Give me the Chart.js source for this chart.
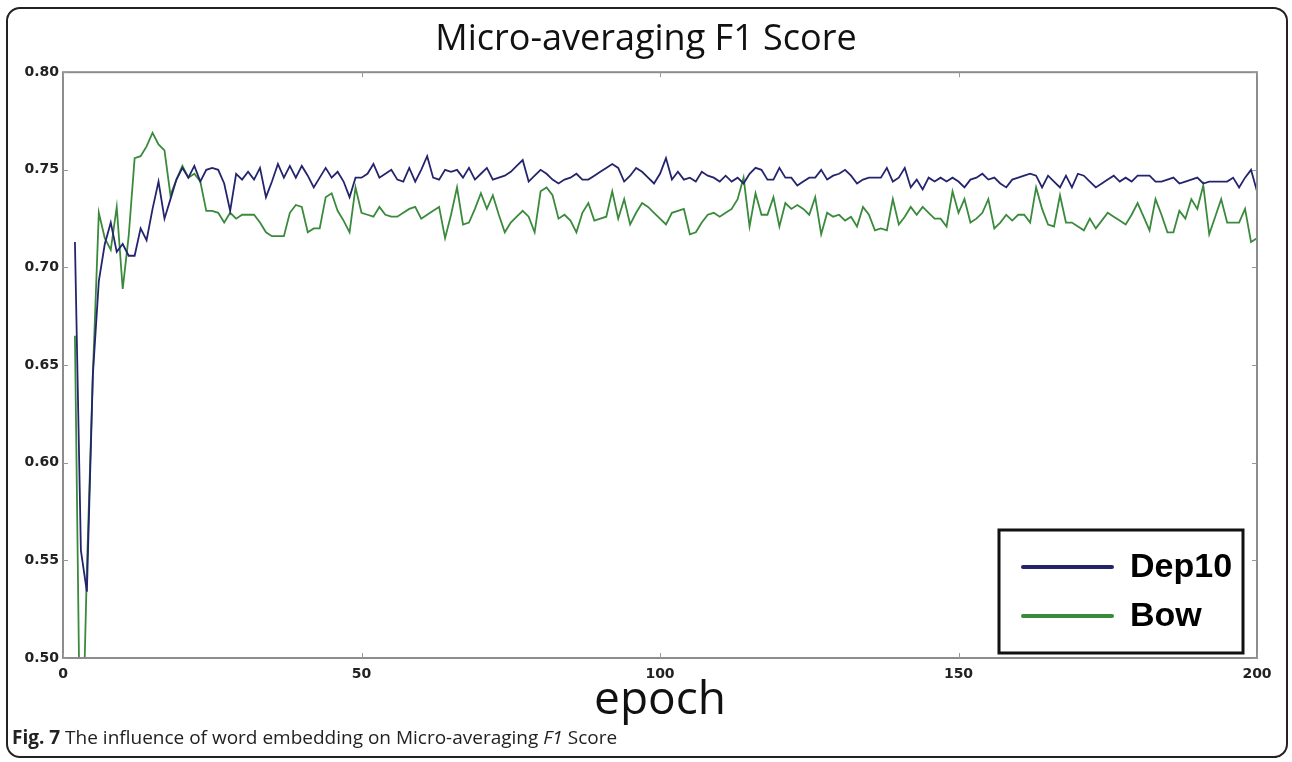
<!DOCTYPE html>
<html>
<head>
<meta charset="utf-8">
<script src="https://cdn.jsdelivr.net/npm/chart.js@4/dist/chart.umd.min.js"></script>
<style>
  body { margin: 0; background: #fff; }
  #wrap { position: relative; width: 1292px; height: 762px; }
  #frame { position: absolute; left: 6px; top: 7px; width: 1278px; height: 747px;
           border: 2px solid #222; border-radius: 14px; pointer-events: none; }
  #caption { position: absolute; left: 12px; top: 724px; font: 19px "Open Sans", sans-serif; color: #222; }
</style>
</head>
<body>
<div id="wrap">
  <canvas id="chart" width="1292" height="762"></canvas>
  <div id="frame"></div>
  <div id="caption"><b>Fig. 7</b> The influence of word embedding on Micro-averaging <i>F1</i> Score</div>
</div>
<script>
// Micro-averaging F1 per epoch, first value belongs to epoch 2
const firstEpoch = 2;
const seriesNames = ['Dep10', 'Bow'];
const yTicks = [0.50, 0.55, 0.60, 0.65, 0.70, 0.75, 0.80];
const xTicks = [0, 50, 100, 150, 200];

const dep10 = [
  0.713, 0.555, 0.534, 0.645, 0.693, 0.712, 0.723, 0.708, 0.712,          // 2-10
  0.706, 0.706, 0.720, 0.714, 0.730, 0.744, 0.725, 0.735, 0.745, 0.751,   // 11-20
  0.746, 0.752, 0.744, 0.750, 0.751, 0.750, 0.743, 0.729, 0.748, 0.745,   // 21-30
  0.749, 0.745, 0.751, 0.736, 0.744, 0.753, 0.746, 0.752, 0.746, 0.752,   // 31-40
  0.747, 0.741, 0.746, 0.751, 0.746, 0.749, 0.744, 0.736, 0.746, 0.746,   // 41-50
  0.748, 0.753, 0.746, 0.748, 0.750, 0.745, 0.744, 0.751, 0.744, 0.750,   // 51-60
  0.757, 0.746, 0.745, 0.750, 0.749, 0.750, 0.746, 0.751, 0.745, 0.748,   // 61-70
  0.751, 0.745, 0.746, 0.747, 0.749, 0.752, 0.755, 0.744, 0.747, 0.750,   // 71-80
  0.748, 0.745, 0.743, 0.745, 0.746, 0.748, 0.745, 0.745, 0.747, 0.749,   // 81-90
  0.751, 0.753, 0.751, 0.744, 0.747, 0.751, 0.749, 0.746, 0.743, 0.748,   // 91-100
  0.756, 0.745, 0.749, 0.745, 0.746, 0.744, 0.749, 0.747, 0.746, 0.744,   // 101-110
  0.747, 0.744, 0.746, 0.743, 0.748, 0.751, 0.750, 0.745, 0.745, 0.751,   // 111-120
  0.746, 0.746, 0.742, 0.744, 0.746, 0.746, 0.750, 0.745, 0.747, 0.748,   // 121-130
  0.750, 0.747, 0.743, 0.745, 0.746, 0.746, 0.746, 0.751, 0.744, 0.746,   // 131-140
  0.751, 0.741, 0.745, 0.740, 0.746, 0.744, 0.746, 0.744, 0.746, 0.744,   // 141-150
  0.741, 0.745, 0.746, 0.748, 0.745, 0.746, 0.743, 0.741, 0.745, 0.746,   // 151-160
  0.747, 0.748, 0.747, 0.741, 0.747, 0.744, 0.741, 0.747, 0.741, 0.748,   // 161-170
  0.747, 0.744, 0.741, 0.743, 0.745, 0.747, 0.744, 0.746, 0.744, 0.747,   // 171-180
  0.747, 0.747, 0.744, 0.744, 0.745, 0.746, 0.743, 0.744, 0.745, 0.746,   // 181-190
  0.743, 0.744, 0.744, 0.744, 0.744, 0.746, 0.741, 0.746, 0.750, 0.739    // 191-200
];

const bow = [
  0.665, 0.420, 0.545, 0.645, 0.728, 0.715, 0.709, 0.731, 0.689,          // 2-10
  0.716, 0.756, 0.757, 0.762, 0.769, 0.763, 0.760, 0.737, 0.745, 0.752,   // 11-20
  0.746, 0.748, 0.744, 0.729, 0.729, 0.728, 0.723, 0.728, 0.725, 0.727,   // 21-30
  0.727, 0.727, 0.723, 0.718, 0.716, 0.716, 0.716, 0.728, 0.732, 0.731,   // 31-40
  0.718, 0.720, 0.720, 0.736, 0.738, 0.729, 0.724, 0.718, 0.741, 0.728,   // 41-50
  0.727, 0.726, 0.731, 0.727, 0.726, 0.726, 0.728, 0.730, 0.731, 0.725,   // 51-60
  0.727, 0.729, 0.731, 0.715, 0.727, 0.741, 0.722, 0.723, 0.730, 0.738,   // 61-70
  0.730, 0.737, 0.727, 0.718, 0.723, 0.726, 0.729, 0.726, 0.718, 0.739,   // 71-80
  0.741, 0.737, 0.725, 0.727, 0.724, 0.718, 0.728, 0.733, 0.724, 0.725,   // 81-90
  0.726, 0.739, 0.725, 0.735, 0.722, 0.728, 0.733, 0.731, 0.728, 0.725,   // 91-100
  0.722, 0.728, 0.729, 0.730, 0.717, 0.718, 0.723, 0.727, 0.728, 0.726,   // 101-110
  0.728, 0.730, 0.735, 0.746, 0.721, 0.738, 0.727, 0.727, 0.736, 0.721,   // 111-120
  0.733, 0.730, 0.732, 0.730, 0.727, 0.736, 0.717, 0.728, 0.726, 0.727,   // 121-130
  0.724, 0.726, 0.721, 0.731, 0.727, 0.719, 0.720, 0.719, 0.735, 0.722,   // 131-140
  0.726, 0.731, 0.727, 0.731, 0.728, 0.725, 0.725, 0.721, 0.739, 0.728,   // 141-150
  0.735, 0.723, 0.725, 0.728, 0.735, 0.720, 0.723, 0.727, 0.724, 0.727,   // 151-160
  0.727, 0.723, 0.741, 0.730, 0.722, 0.721, 0.737, 0.723, 0.723, 0.721,   // 161-170
  0.719, 0.725, 0.720, 0.724, 0.728, 0.726, 0.724, 0.722, 0.727, 0.733,   // 171-180
  0.726, 0.719, 0.735, 0.727, 0.718, 0.718, 0.729, 0.725, 0.735, 0.730,   // 181-190
  0.742, 0.717, 0.726, 0.735, 0.723, 0.723, 0.723, 0.730, 0.713, 0.715    // 191-200
];

const lineColors = ['#24246e', '#3a8a3c'];

function toPoints(values)
{
  return values.map((v, i) => ({ x: firstEpoch + i, y: v }));
}

// box + inward ticks like the matplotlib frame, and the legend inside the plot
const frameAndLegend = {
  id: 'frameAndLegend',
  afterDraw(chart)
  {
    const c  = chart.ctx;
    const a  = chart.chartArea;
    const xs = chart.scales.x, ys = chart.scales.y;
    c.save();
    c.strokeStyle = '#8c8c8c';
    c.lineWidth = 2;
    c.strokeRect(a.left, a.top, a.right - a.left, a.bottom - a.top);

    c.lineWidth = 1;
    c.strokeStyle = '#999';
    xTicks.forEach(t => {
      const px = Math.round(xs.getPixelForValue(t)) + 0.5;
      c.beginPath();
      c.moveTo(px, a.bottom); c.lineTo(px, a.bottom - 5);
      c.moveTo(px, a.top);    c.lineTo(px, a.top + 5);
      c.stroke();
    });
    yTicks.forEach(t => {
      const py = Math.round(ys.getPixelForValue(t)) + 0.5;
      c.beginPath();
      c.moveTo(a.left, py);  c.lineTo(a.left + 5, py);
      c.moveTo(a.right, py); c.lineTo(a.right - 5, py);
      c.stroke();
    });

    // legend box, lower right
    const bx = a.right - 258, by = a.bottom - 128, bw = 244, bh = 123;
    c.fillStyle = '#fff';
    c.fillRect(bx, by, bw, bh);
    c.strokeStyle = '#111';
    c.lineWidth = 3;
    c.strokeRect(bx, by, bw, bh);

    c.font = 'bold 34px "Liberation Sans Narrow", "Liberation Sans", sans-serif';
    c.textBaseline = 'middle';
    chart.data.datasets.forEach((ds, i) => {
      const ly = by + 37 + i * 49;
      c.strokeStyle = ds.borderColor;
      c.lineWidth = 4;
      c.lineCap = 'round';
      c.beginPath();
      c.moveTo(bx + 24, ly); c.lineTo(bx + 113, ly);
      c.stroke();
      c.fillStyle = '#000';
      c.fillText(ds.label, bx + 131, ly + 1);
    });
    c.restore();
  }
};

const ctx = document.getElementById('chart').getContext('2d');
const chart = new Chart(ctx, {
  type: 'line',
  data: {
    datasets: [
      { label: seriesNames[0], data: toPoints(dep10), borderColor: lineColors[0], borderWidth: 1.8, pointRadius: 0, tension: 0 },
      { label: seriesNames[1], data: toPoints(bow),   borderColor: lineColors[1], borderWidth: 1.8, pointRadius: 0, tension: 0 }
    ]
  },
  options: {
    responsive: false,
    animation: false,
    devicePixelRatio: 1,
    layout: { padding: 0 },
    plugins: {
      legend: { display: false },
      tooltip: { enabled: false },
      title: {
        display: true,
        text: 'Micro-averaging F1 Score',
        color: '#111',
        font: { family: '"Open Sans", sans-serif', size: 36, weight: 'normal' },
        padding: { top: 18, bottom: 11 }
      }
    },
    scales: {
      x: {
        type: 'linear', min: 0, max: 200,
        grid: { display: false, drawTicks: false },
        border: { display: false },
        afterBuildTicks: s => { s.ticks = xTicks.map(v => ({ value: v })); },
        afterFit: s => { s.height = 104; },
        ticks: { color: '#222', padding: 8, maxRotation: 0,
                 font: { family: '"DejaVu Sans", sans-serif', size: 14, weight: 'bold' } },
        title: { display: true, text: 'epoch', color: '#111',
                 font: { family: '"Open Sans", sans-serif', size: 46 },
                 padding: { top: 0, bottom: 34 } }
      },
      y: {
        min: 0.5, max: 0.8,
        grid: { display: false, drawTicks: false },
        border: { display: false },
        afterBuildTicks: s => { s.ticks = yTicks.map(v => ({ value: v })); },
        afterFit: s => { s.width = 63; },
        ticks: { color: '#222', padding: 4,
                 callback: v => v.toFixed(2),
                 font: { family: '"DejaVu Sans", sans-serif', size: 14, weight: 'bold' } }
      },
      // empty right margin, keeps the title centred over the whole figure
      yRight: {
        position: 'right',
        grid: { display: false, drawTicks: false },
        border: { display: false },
        ticks: { display: false },
        afterFit: s => { s.width = 35; }
      }
    }
  },
  plugins: [frameAndLegend]
});
</script>
</body>
</html>
